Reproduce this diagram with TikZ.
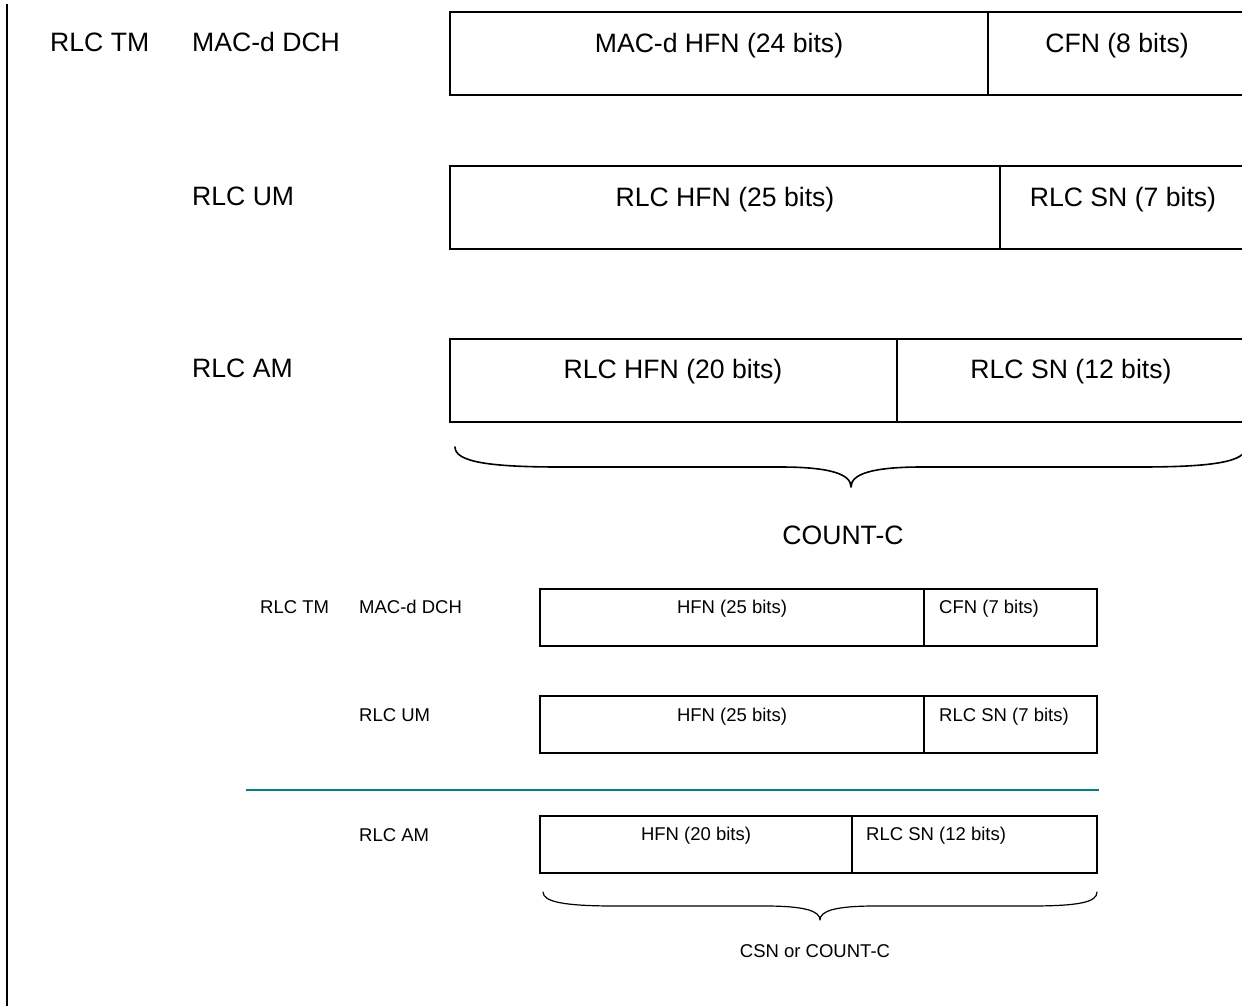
\documentclass[tikz,border=0pt]{standalone}
\usepackage{fontspec}
\setmainfont{Liberation Sans}
\definecolor{tealline}{RGB}{0,128,128}
\begin{document}
\begin{tikzpicture}[x=1pt,y=-1pt,
  bigtxt/.style={anchor=base, inner sep=0pt, font=\fontsize{26.6}{32}\selectfont},
  smalltxt/.style={anchor=base, inner sep=0pt, font=\fontsize{18.5}{22}\selectfont},
  bigcell/.style={draw, line width=1.8pt, inner sep=0pt, outer sep=0pt, anchor=north west, minimum height=83pt},
  smallcell/.style={draw, line width=1.3pt, inner sep=0pt, outer sep=0pt, anchor=north west, minimum height=57pt},
  bracepath/.style={line width=1.6pt, line cap=round, line join=round},
]
\useasboundingbox (0,0) rectangle (1242,1006);

% left rule
\coordinate (vtop) at (7,4);
\coordinate (vbot) at (7,1008);
\draw[line width=2pt] (vtop) -- (vbot);

% ---------- upper part ----------
\node[bigtxt, anchor=base west] (l1a) at (50,52) {RLC TM};
\node[bigtxt, anchor=base west] (l1b) at (192,52) {MAC-d DCH};
\node[bigtxt, anchor=base west] (l2) at (192,205.5) {RLC UM};
\node[bigtxt, anchor=base west] (l3) at (192,377.5) {RLC AM};

\node[bigcell, minimum width=538pt] (c1a) at (450,12) {};
\node[bigcell, minimum width=258pt] (c1b) at (988,12) {};
\node[bigtxt] (t1a) at (719,52.5) {MAC-d HFN (24 bits)};
\node[bigtxt] (t1b) at (1117,52.5) {CFN (8 bits)};

\node[bigcell, minimum width=550pt] (c2a) at (450,166) {};
\node[bigcell, minimum width=246pt] (c2b) at (1000,166) {};
\node[bigtxt] (t2a) at (725,206.5) {RLC HFN (25 bits)};
\node[bigtxt] (t2b) at (1123,206.5) {RLC SN (7 bits)};

\node[bigcell, minimum width=447pt] (c3a) at (450,339) {};
\node[bigcell, minimum width=349pt] (c3b) at (897,339) {};
\node[bigtxt] (t3a) at (673,378.5) {RLC HFN (20 bits)};
\node[bigtxt] (t3b) at (1071,378.5) {RLC SN (12 bits)};

% upper brace
\draw[bracepath] (455,447) .. controls (455,462) and (490,467) .. (560,467)
  -- (780,467) .. controls (830,467) and (851,474) .. (851,487)
  .. controls (851,474) and (872,467) .. (922,467)
  -- (1140,467) .. controls (1212,467) and (1246,462) .. (1246,447);
\node[bigtxt] (cc) at (843,544.5) {COUNT-C};

% ---------- lower part ----------
\node[smalltxt, anchor=base west] (m1a) at (260,613) {RLC TM};
\node[smalltxt, anchor=base west] (m1b) at (359,613) {MAC-d DCH};
\node[smalltxt, anchor=base west] (m2) at (359,721) {RLC UM};
\node[smalltxt, anchor=base west] (m3) at (359,841) {RLC AM};

\node[smallcell, minimum width=384pt] (d1a) at (540,589) {};
\node[smallcell, minimum width=173pt] (d1b) at (924,589) {};
\node[smalltxt] (u1a) at (732,613.5) {HFN (25 bits)};
\node[smalltxt, anchor=base west] (u1b) at (939,613.5) {CFN (7 bits)};

\node[smallcell, minimum width=384pt] (d2a) at (540,696) {};
\node[smallcell, minimum width=173pt] (d2b) at (924,696) {};
\node[smalltxt] (u2a) at (732,721.5) {HFN (25 bits)};
\node[smalltxt, anchor=base west] (u2b) at (939,721.5) {RLC SN (7 bits)};

\coordinate (tl) at (246,790);
\coordinate (tr) at (1099,790);
\draw[tealline, line width=2pt] (tl) -- (tr);

\node[smallcell, minimum width=312pt] (d3a) at (540,816) {};
\node[smallcell, minimum width=245pt] (d3b) at (852,816) {};
\node[smalltxt] (u3a) at (696,840.5) {HFN (20 bits)};
\node[smalltxt, anchor=base west] (u3b) at (866,840.5) {RLC SN (12 bits)};

% lower brace
\draw[bracepath, line width=1.2pt] (543,892) .. controls (543,902) and (565,906) .. (615,906)
  -- (765,906) .. controls (805,906) and (820,911) .. (820,920)
  .. controls (820,911) and (835,906) .. (875,906)
  -- (1030,906) .. controls (1080,906) and (1097,902) .. (1097,892);
\node[smalltxt] (csn) at (815,957.5) {CSN or COUNT-C};

\end{tikzpicture}
\end{document}
